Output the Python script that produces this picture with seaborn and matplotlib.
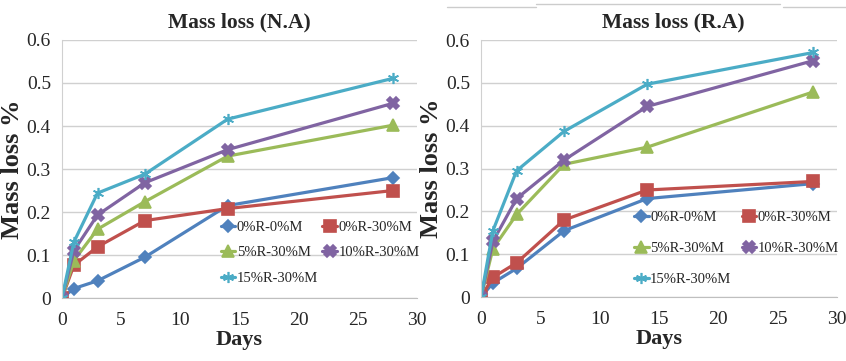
import matplotlib
matplotlib.use("Agg")
import matplotlib.pyplot as plt
import seaborn as sns
from matplotlib.lines import Line2D

sns.set_style("white")
plt.rcParams["font.family"] = ["Liberation Serif", "DejaVu Serif"]

days = [0, 1, 3, 7, 14, 28]
labels = ["0%R-0%M", "0%R-30%M", "5%R-30%M", "10%R-30%M", "15%R-30%M"]

# Mass loss (N.A)
na_0r_0m = [0, 0.022, 0.04, 0.095, 0.215, 0.28]
na_0r_30m = [0, 0.076, 0.119, 0.18, 0.208, 0.25]
na_5r_30m = [0, 0.087, 0.16, 0.224, 0.33, 0.402]
na_10r_30m = [0, 0.11, 0.193, 0.268, 0.345, 0.453]
na_15r_30m = [0, 0.13, 0.244, 0.288, 0.416, 0.511]

# Mass loss (R.A)
ra_0r_0m = [0, 0.033, 0.067, 0.155, 0.23, 0.265]
ra_0r_30m = [0, 0.046, 0.08, 0.18, 0.25, 0.27]
ra_5r_30m = [0, 0.113, 0.193, 0.31, 0.35, 0.479]
ra_10r_30m = [0, 0.13, 0.23, 0.32, 0.445, 0.552]
ra_15r_30m = [0, 0.155, 0.295, 0.387, 0.497, 0.571]

colors = ["#4F81BD", "#C0504D", "#9BBB59", "#8064A2", "#4BACC6"]
markers = ["D", "s", "^", "X", (6, 2, 0)]
msizes = [6, 8, 8, 8, 8]

fig = plt.figure(figsize=(8.46, 3.61), dpi=100)
ax1 = fig.add_axes([0.0733, 0.1745, 0.4196, 0.7147])
ax2 = fig.add_axes([0.5686, 0.177, 0.4208, 0.712])

panels = [
    (ax1, [na_0r_0m, na_0r_30m, na_5r_30m, na_10r_30m, na_15r_30m], "Mass loss (N.A)",
     (0.447, 0.30), 0.85, 0.3, 0.5, -0.107),
    (ax2, [ra_0r_0m, ra_0r_30m, ra_5r_30m, ra_10r_30m, ra_15r_30m], "Mass loss (R.A)",
     (0.43, 0.335), 1.2, 0.7, 0.54, -0.106),
]

for ax, series, title, anchor, lspace, cspace, tx, ylx in panels:
    for vals, lab, c, m, ms in zip(series, labels, colors, markers, msizes):
        sns.lineplot(x=days, y=vals, color=c, marker=m, markersize=ms, linewidth=2.3,
                     markeredgecolor=c, markeredgewidth=1.2, label=lab, ax=ax)
    ax.set_xlim(0, 30)
    ax.set_ylim(0, 0.6)
    ax.set_xticks(range(0, 31, 5))
    ax.set_yticks([0, 0.1, 0.2, 0.3, 0.4, 0.5, 0.6])
    ax.set_yticklabels(["0", "0.1", "0.2", "0.3", "0.4", "0.5", "0.6"])
    ax.yaxis.grid(True, color="#d0d0d0", linewidth=1)
    ax.xaxis.grid(False)
    for s in ["top", "right"]:
        ax.spines[s].set_visible(False)
    ax.spines["left"].set_color("#d0d0d0")
    ax.spines["bottom"].set_color("#bfbfbf")
    ax.tick_params(axis="both", labelsize=14, length=0)
    ax.tick_params(axis="x", pad=10)
    ax.tick_params(axis="y", pad=8)
    ax.set_title(title, fontsize=15.5, fontweight="bold", pad=9, x=tx)
    ax.set_xlabel("Days", fontsize=16, fontweight="bold", labelpad=1)
    ax.set_ylabel("Mass loss %", fontsize=19, fontweight="bold")
    ax.yaxis.set_label_coords(ylx, 0.5)
    h, l = ax.get_legend_handles_labels()
    order = [0, 2, 4, 1, 3]
    ax.legend([h[i] for i in order], [l[i] for i in order], ncol=2, frameon=False,
              loc="upper left", bbox_to_anchor=anchor, borderaxespad=0, borderpad=0,
              fontsize=10.5, handlelength=1.0, handletextpad=0.1, labelspacing=lspace,
              columnspacing=cspace)

# thin decorative rules at the top of the right panel
for x0, x1, y in [(0.528, 0.634, 0.98), (0.634, 0.922, 0.989), (0.925, 1.0, 0.98)]:
    fig.add_artist(Line2D([x0, x1], [y, y], color="#cccccc", linewidth=1))

fig.savefig("out.png", dpi=100)
